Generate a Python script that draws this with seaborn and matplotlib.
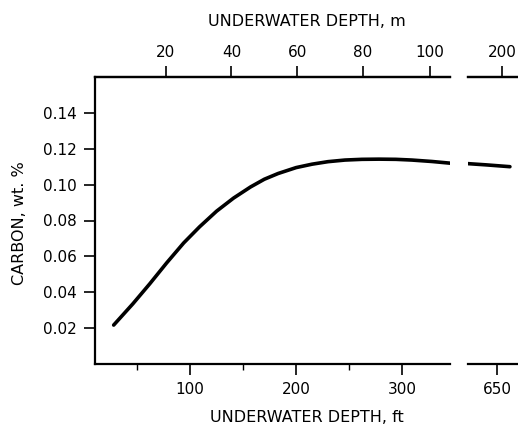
import matplotlib
matplotlib.use("Agg")
from matplotlib import pyplot as plt
import numpy as np
import pandas as pd
import seaborn as sns

# curve (depth in ft, carbon wt. %)
depth_ft = [28, 46, 62, 78, 94, 109, 125, 141, 157, 170, 183, 200, 215, 230, 246, 262, 278,
            294, 309, 328, 348]
carbon = [0.0217, 0.0335, 0.0447, 0.0564, 0.0675, 0.0765, 0.0852, 0.0925, 0.0987, 0.1030,
          0.1062, 0.1095, 0.1114, 0.1128, 0.1137, 0.1141, 0.1142, 0.1141, 0.1137, 0.1129,
          0.1118]
# part past the axis break
depth_ft_far = [620, 640, 662]
carbon_far = [0.1118, 0.1110, 0.1100]

yticks = [0.02, 0.04, 0.06, 0.08, 0.10, 0.12, 0.14]
ft_ticks = [100, 200, 300]
ft_minor = [50, 150, 250]
m_labels = ["20", "40", "60", "80", "100"]
m_tick_ft = [77, 139, 201, 263, 326]
far_ft_ticks = [650]
far_m_labels = ["200"]
far_m_tick_ft = [655]

sns.set_style("ticks")
plt.rcParams['font.family'] = ['DejaVu Sans']
plt.rcParams['font.size'] = 11
plt.rcParams['axes.linewidth'] = 1.6
plt.rcParams['axes.edgecolor'] = 'black'
plt.rcParams['text.color'] = 'black'
plt.rcParams['xtick.color'] = 'black'
plt.rcParams['ytick.color'] = 'black'

fig = plt.figure(figsize=(5.18, 4.30), dpi=100)
W, H = 518, 430
bottom = 1 - 364 / H
height = 287 / H
ax = fig.add_axes([95 / W, bottom, 355 / W, height])
ax2 = fig.add_axes([468 / W, bottom, 60 / W, height])

df = pd.DataFrame({"ft": depth_ft, "c": carbon})
df_far = pd.DataFrame({"ft": depth_ft_far, "c": carbon_far})
sns.lineplot(data=df, x="ft", y="c", ax=ax, color="black", linewidth=2.6)
sns.lineplot(data=df_far, x="ft", y="c", ax=ax2, color="black", linewidth=2.6)

tick_kw = dict(direction="out", length=8, width=1.2, colors="black", labelsize=11)

ax.set_xlim(10.4, 345)
ax.set_ylim(0, 0.16)
ax.set_yticks(yticks, labels=[f"{v:.2f}" for v in yticks])
ax.set_xticks(ft_ticks, labels=[str(v) for v in ft_ticks])
ax.set_xticks(ft_minor, minor=True)
ax.tick_params(axis="both", which="major", pad=5, **tick_kw)
ax.tick_params(axis="x", which="minor", direction="out", length=4, width=1.0)
ax.spines["right"].set_visible(False)
ax.set_xlabel("")
ax.set_ylabel("")

top = ax.secondary_xaxis("top")
top.set_xticks(m_tick_ft, labels=m_labels)
top.tick_params(axis="x", pad=4, **tick_kw)
top.spines["top"].set_linewidth(1.6)

ax2.set_xlim(622.6, 679)
ax2.set_ylim(0, 0.16)
ax2.set_yticks([])
ax2.set_xticks(far_ft_ticks, labels=[str(v) for v in far_ft_ticks])
ax2.tick_params(axis="x", pad=5, **tick_kw)
ax2.spines["left"].set_visible(False)
ax2.spines["right"].set_visible(False)
ax2.set_xlabel("")
ax2.set_ylabel("")

top2 = ax2.secondary_xaxis("top")
top2.set_xticks(far_m_tick_ft, labels=far_m_labels)
top2.tick_params(axis="x", pad=4, **tick_kw)
top2.spines["top"].set_linewidth(1.6)

fig.text(307 / W, 1 - 418 / H, "UNDERWATER DEPTH, ft", ha="center", va="center", fontsize=11.5)
fig.text(307 / W, 1 - 21 / H, "UNDERWATER DEPTH, m", ha="center", va="center", fontsize=11.5)
fig.text(20 / W, 1 - 223 / H, "CARBON, wt. %", ha="center", va="center", rotation=90, fontsize=11.5)

fig.savefig("out.png", dpi=100)
